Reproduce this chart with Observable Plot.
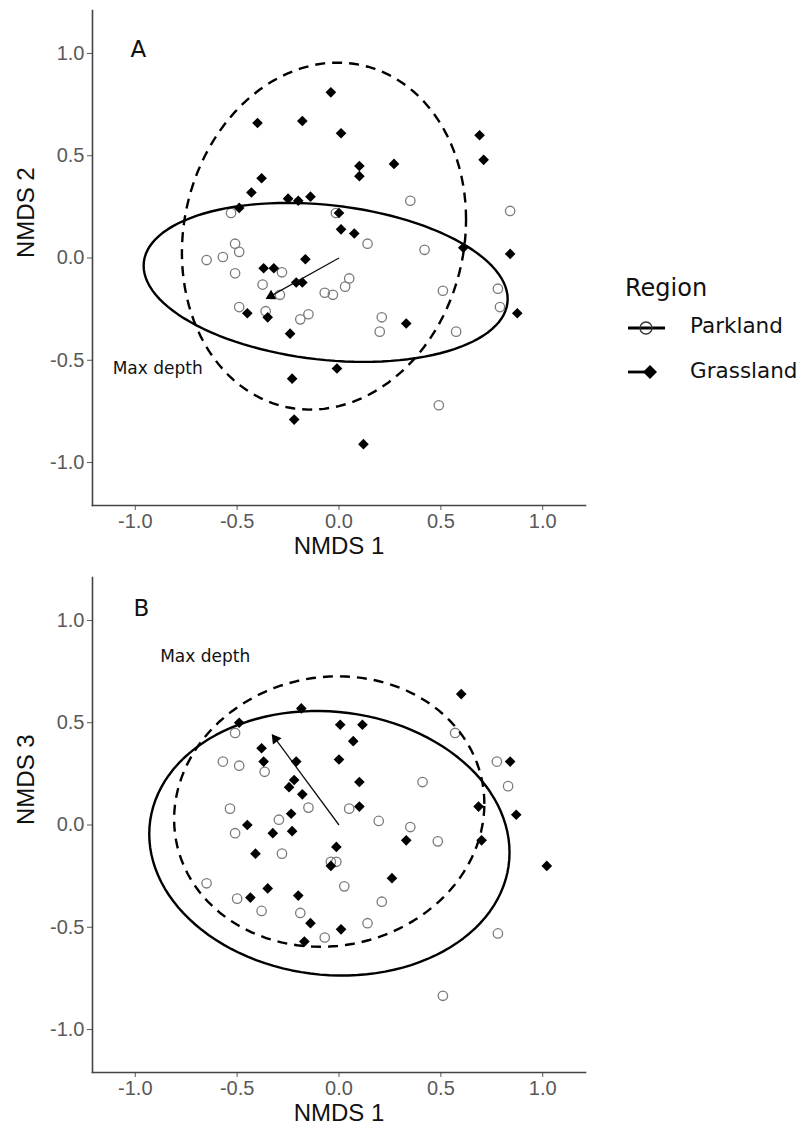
<!DOCTYPE html>
<html>
<head>
<meta charset="utf-8">
<script src="https://cdn.jsdelivr.net/npm/d3@7"></script>
<script src="https://cdn.jsdelivr.net/npm/@observablehq/plot@0.6"></script>
<style>
  body { margin: 0; background: white; }
  #wrap { position: relative; width: 801px; height: 1133px; background: white; overflow: hidden; }
  #panelA, #panelB { position: absolute; left: 0; }
  #panelA { top: 0; }
  #panelB { top: 567px; }
  #legend { position: absolute; left: 600px; top: 262px; width: 200px; height: 140px; font-family: "DejaVu Sans", sans-serif; color: #111; }
  #legend .title { position: absolute; left: 25px; top: 12px; font-size: 24px; line-height: 28px; }
  #legend .item { position: absolute; left: 90px; font-size: 21.5px; line-height: 26px; }
  #legend svg { position: absolute; left: 0; top: 0; }
</style>
</head>
<body>
<div id="wrap">
  <div id="panelA"></div>
  <div id="panelB"></div>
  <div id="legend"></div>
</div>
<script>
// ---------------- data ----------------
const regions = ["Parkland", "Grassland"];
const axisTicks = [-1.0, -0.5, 0.0, 0.5, 1.0];

// Panel A: NMDS 1 vs NMDS 2
const parkA_nmds1 = [-0.53,-0.015,-0.51,-0.49,-0.65,-0.57,-0.51,-0.28,-0.375,-0.29,-0.07,-0.03,0.03,0.05,-0.49,-0.36,-0.19,-0.15,0.35,0.84,0.14,0.42,0.51,0.78,0.79,0.21,0.20,0.575,0.49];
const parkA_nmds2 = [0.22,0.22,0.07,0.03,-0.01,0.005,-0.075,-0.07,-0.13,-0.18,-0.17,-0.18,-0.14,-0.10,-0.24,-0.26,-0.30,-0.275,0.28,0.23,0.07,0.04,-0.16,-0.15,-0.24,-0.29,-0.36,-0.36,-0.72];
const grassA_nmds1 = [-0.04,-0.40,-0.18,0.01,-0.38,-0.43,-0.25,-0.20,-0.14,-0.49,0.0,0.01,0.10,0.10,0.27,0.69,0.71,0.075,0.61,0.84,-0.37,-0.32,-0.165,-0.21,-0.18,-0.45,-0.35,-0.24,-0.01,-0.23,-0.22,0.875,0.33,0.12];
const grassA_nmds2 = [0.81,0.66,0.67,0.61,0.39,0.32,0.29,0.28,0.30,0.245,0.22,0.14,0.45,0.40,0.46,0.60,0.48,0.12,0.05,0.02,-0.05,-0.05,-0.006,-0.12,-0.12,-0.27,-0.29,-0.37,-0.54,-0.59,-0.79,-0.27,-0.32,-0.91];

// Panel B: NMDS 1 vs NMDS 3
const parkB_nmds1 = [-0.51,-0.365,-0.57,-0.49,-0.15,-0.535,-0.295,-0.51,0.05,0.57,0.41,0.775,0.83,0.195,0.35,0.485,-0.28,-0.04,-0.013,0.026,-0.65,-0.50,-0.38,-0.19,-0.07,0.21,0.14,0.78,0.51];
const parkB_nmds3 = [0.45,0.26,0.31,0.29,0.085,0.08,0.026,-0.04,0.08,0.45,0.21,0.31,0.19,0.02,-0.01,-0.08,-0.14,-0.18,-0.18,-0.30,-0.285,-0.36,-0.42,-0.43,-0.55,-0.375,-0.48,-0.53,-0.835];
const grassB_nmds1 = [-0.185,-0.49,0.006,-0.38,-0.37,-0.21,0.0,-0.22,-0.245,-0.18,-0.235,-0.45,-0.325,-0.23,0.60,0.115,0.07,0.10,0.84,0.685,0.87,0.10,0.33,0.70,-0.41,-0.013,-0.04,-0.35,-0.20,-0.435,-0.14,0.01,-0.17,1.02,0.26];
const grassB_nmds3 = [0.57,0.50,0.49,0.375,0.31,0.31,0.32,0.22,0.185,0.15,0.055,0.0,-0.04,-0.03,0.64,0.49,0.41,0.21,0.31,0.09,0.05,0.09,-0.075,-0.075,-0.14,-0.107,-0.20,-0.31,-0.345,-0.355,-0.48,-0.51,-0.57,-0.20,-0.26];

// Fitted "Max depth" vectors (NMDS coordinates of arrow tips)
const maxDepthA = [-0.36, -0.20];
const maxDepthB = [-0.33, 0.445];
const vectorLabel = "Max depth";
const vectorLabelA = [-0.89, -0.54];
const vectorLabelB = [-0.657, 0.824];
const panelLetters = ["A", "B"];
const panelLetterA = [-0.985, 1.02];
const panelLetterB = [-0.97, 1.06];
const ellipseLevel = 0.90;

// ---------------- statistics: ggplot2 stat_ellipse (type "t") ----------------
function covTrob(pts, nu = 5, maxit = 25, tol = 0.01) {
  const n = pts.length, p = 2;
  let w = pts.map(() => 1);
  let loc = [d3.mean(pts, d => d[0]), d3.mean(pts, d => d[1])];
  let X = [];
  for (let iter = 0; iter < maxit; iter++) {
    const w0 = w.slice();
    X = pts.map(([x, y]) => [x - loc[0], y - loc[1]]);
    const sw = d3.sum(w);
    let sxx = 0, sxy = 0, syy = 0;
    X.forEach(([dx, dy], i) => { const k = w[i] / sw; sxx += k * dx * dx; sxy += k * dx * dy; syy += k * dy * dy; });
    const det = sxx * syy - sxy * sxy;
    const Q = X.map(([dx, dy]) => (syy * dx * dx - 2 * sxy * dx * dy + sxx * dy * dy) / det);
    w = Q.map(q => (nu + p) / (nu + q));
    const sw2 = d3.sum(w);
    loc = [d3.sum(pts, (d, i) => w[i] * d[0]) / sw2, d3.sum(pts, (d, i) => w[i] * d[1]) / sw2];
    if (w.every((v, i) => Math.abs(v - w0[i]) < tol)) break;
  }
  let cxx = 0, cxy = 0, cyy = 0;
  X.forEach(([dx, dy], i) => { cxx += w[i] * dx * dx; cxy += w[i] * dx * dy; cyy += w[i] * dy * dy; });
  return { center: loc, cov: [cxx / n, cxy / n, cyy / n] };
}
function statEllipse(xs, ys, level = ellipseLevel, segments = 120) {
  const pts = xs.map((x, i) => [x, ys[i]]);
  const { center, cov } = covTrob(pts);
  const [a, b, c] = cov;
  const r11 = Math.sqrt(a), r12 = b / r11, r22 = Math.sqrt(c - r12 * r12);
  const dfd = pts.length - 1;
  const fq = (dfd / 2) * (Math.pow(1 - level, -2 / dfd) - 1); // F(2, dfd) quantile
  const radius = Math.sqrt(2 * fq);
  return d3.range(segments + 1).map(k => {
    const t = (k / segments) * 2 * Math.PI, u = Math.cos(t), v = Math.sin(t);
    return { x: center[0] + radius * u * r11, y: center[1] + radius * (u * r12 + v * r22) };
  });
}

// ---------------- drawing ----------------
const tickFmt = d => d.toFixed(1);
function panel(px, py, gx, gy, vec, vecLab, letter, letterPos, yTitle) {
  const park = px.map((x, i) => ({ x, y: py[i], region: regions[0] }));
  const grass = gx.map((x, i) => ({ x, y: gy[i], region: regions[1] }));
  const len = Math.hypot(vec[0], vec[1]);
  const ux = vec[0] / len, uy = vec[1] / len;
  const head = { x: vec[0] - 0.03 * ux, y: vec[1] - 0.03 * uy, rot: 90 - Math.atan2(vec[1], vec[0]) * 180 / Math.PI };
  return Plot.plot({
    width: 590, height: 560,
    marginLeft: 92, marginRight: 5, marginTop: 10, marginBottom: 55,
    x: { domain: [-1.21, 1.21] },
    y: { domain: [-1.21, 1.21] },
    style: { fontFamily: "'Liberation Sans', Arial, sans-serif", fontSize: "20px", background: "white", overflow: "visible", color: "#111" },
    marks: [
      Plot.axisX({ ticks: axisTicks, tickFormat: tickFmt, tickSize: 5, tickPadding: 3, label: null, color: "#595959", fontSize: 20 }),
      Plot.axisY({ ticks: axisTicks, tickFormat: tickFmt, tickSize: 5, tickPadding: 3, label: null, color: "#595959", fontSize: 20 }),
      Plot.frame({ anchor: "bottom", stroke: "#444", strokeWidth: 1.6 }),
      Plot.frame({ anchor: "left", stroke: "#444", strokeWidth: 1.6 }),
      Plot.text(["NMDS 1"], { frameAnchor: "bottom", dy: 48, fontSize: 24, fill: "#111" }),
      Plot.text([yTitle], { frameAnchor: "left", dx: -66, rotate: -90, fontSize: 24, fill: "#111" }),
      Plot.dot(park, { x: "x", y: "y", r: 4.7, stroke: "#7a7a7a", strokeWidth: 1.3, fill: "none" }),
      Plot.dot(grass, { x: "x", y: "y", r: 4.8, symbol: "diamond2", fill: "black", stroke: "none" }),
      Plot.line(statEllipse(px, py), { x: "x", y: "y", stroke: "black", strokeWidth: 2.4, curve: "linear" }),
      Plot.line(statEllipse(gx, gy), { x: "x", y: "y", stroke: "black", strokeWidth: 2.4, strokeDasharray: "10,7", strokeLinecap: "butt", curve: "linear" }),
      Plot.link([head], { x1: () => 0, y1: () => 0, x2: "x", y2: "y", stroke: "#111", strokeWidth: 1.3 }),
      Plot.dot([head], { x: "x", y: "y", symbol: "triangle", r: 4, rotate: "rot", fill: "black", stroke: "none" }),
      Plot.text([vectorLabel], { x: () => vecLab[0], y: () => vecLab[1], fontFamily: "'DejaVu Sans', sans-serif", fontSize: 17, fill: "#111" }),
      Plot.text([letter], { x: () => letterPos[0], y: () => letterPos[1], fontFamily: "'DejaVu Sans', sans-serif", fontSize: 23, fill: "#111" })
    ]
  });
}

document.getElementById("panelA").appendChild(
  panel(parkA_nmds1, parkA_nmds2, grassA_nmds1, grassA_nmds2, maxDepthA, vectorLabelA, panelLetters[0], panelLetterA, "NMDS 2"));
document.getElementById("panelB").appendChild(
  panel(parkB_nmds1, parkB_nmds3, grassB_nmds1, grassB_nmds3, maxDepthB, vectorLabelB, panelLetters[1], panelLetterB, "NMDS 3"));

// ---------------- legend ----------------
const legend = document.getElementById("legend");
legend.innerHTML = `
  <div class="title">Region</div>
  <svg width="80" height="140">
    <line x1="28" x2="65" y1="66" y2="66" stroke="black" stroke-width="2.8"/>
    <circle cx="46" cy="66" r="6" fill="none" stroke="#333" stroke-width="1.3"/>
    <line x1="28" x2="50" y1="110" y2="110" stroke="black" stroke-width="2.8"/>
    <path d="M50,103 L57,110 L50,117 L43,110 Z" fill="black"/>
  </svg>
  <div class="item" style="top:51px">${regions[0]}</div>
  <div class="item" style="top:96px">${regions[1]}</div>`;
</script>
</body>
</html>
